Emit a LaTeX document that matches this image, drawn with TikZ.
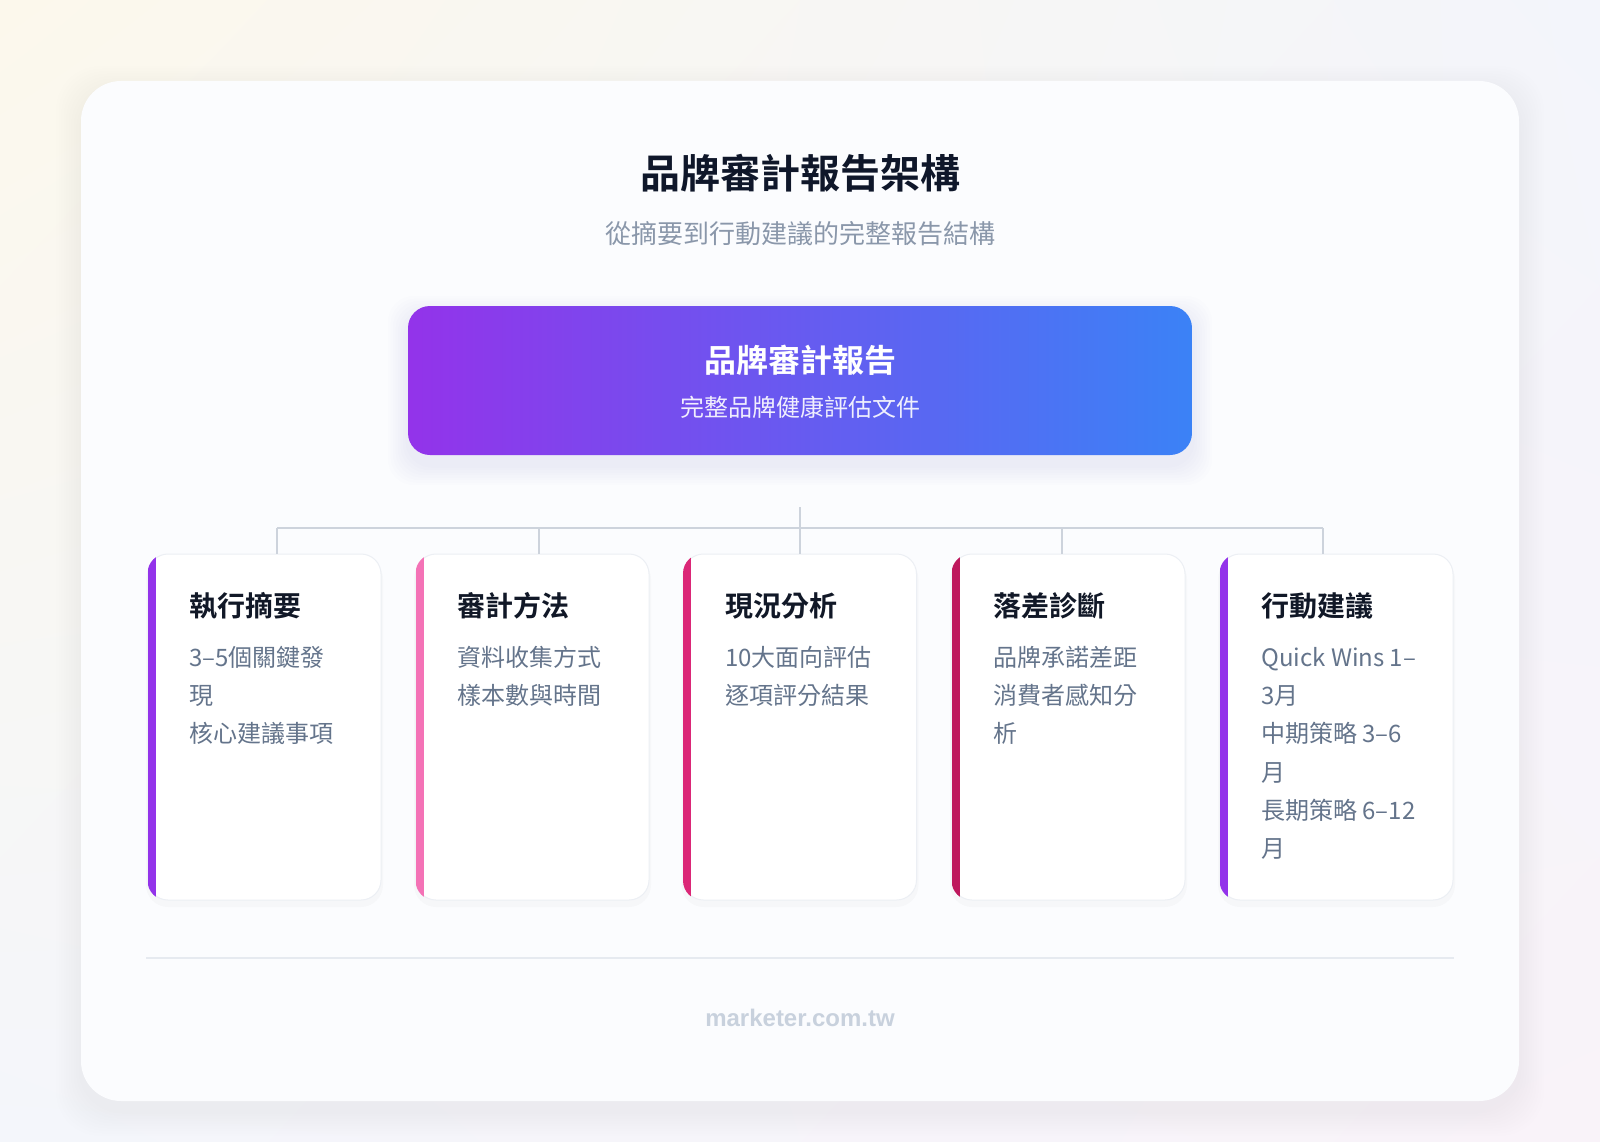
\documentclass[tikz,border=0pt]{standalone}
\usepackage{fontspec}
\usetikzlibrary{shadings}
\setmainfont{Noto Sans CJK TC}[BoldFont={Noto Sans CJK TC Bold}]
\newfontfamily\footfont{Liberation Sans}
\definecolor{bgA}{HTML}{FCF8EC}
\definecolor{bgB}{HTML}{F3F5FB}
\definecolor{bgC}{HTML}{F4F6FB}
\definecolor{bgD}{HTML}{F9F3F9}
\definecolor{panel}{HTML}{FBFCFE}
\definecolor{titlec}{HTML}{0F172A}
\definecolor{subc}{HTML}{8A97AA}
\definecolor{bodyc}{HTML}{64748B}
\definecolor{cardt}{HTML}{111827}
\definecolor{linec}{HTML}{CDD3DC}
\definecolor{footc}{HTML}{C8D1DD}
\definecolor{footl}{HTML}{E6EAF0}
\definecolor{cardb}{HTML}{ECEFF4}
\definecolor{gradL}{HTML}{9333EA}
\definecolor{gradR}{HTML}{3B82F6}
\definecolor{barA}{HTML}{9333EA}
\definecolor{barB}{HTML}{F472B6}
\definecolor{barC}{HTML}{DB2777}
\definecolor{barD}{HTML}{BE185D}
\definecolor{glow}{HTML}{6366F1}
\tikzset{
  cardbox/.style={draw=cardb, line width=1pt, fill=white, rounded corners=20pt,
    minimum width=233pt, minimum height=346pt, inner sep=0pt},
  cardtitle/.style={anchor=base west, inner sep=0pt, text=cardt,
    font=\fontsize{28}{28}\selectfont\bfseries},
  cardline/.style={anchor=base west, inner sep=0pt, text=bodyc,
    font=\fontsize{24}{24}\selectfont},
  conn/.style={draw=linec, line width=2pt},
}
\begin{document}
\begin{tikzpicture}[x=1pt,y=-1pt]
\useasboundingbox (0,0) rectangle (1600,1142);
% background
\shade[upper left=bgA, upper right=bgB, lower left=bgC, lower right=bgD] (0,0) rectangle (1600,1142);
% panel shadow
\foreach \i in {1,...,10} {
  \fill[black, opacity=0.0035, rounded corners=44pt] (81-\i*2.5,81-\i*2.5+10) rectangle (1519+\i*2.5,1101+\i*2.5+10);
}
\fill[panel, rounded corners=40pt] (81,81) rectangle (1519,1101);
% title
\node[anchor=base, inner sep=0pt, text=titlec, font=\fontsize{40}{40}\selectfont\bfseries] (title) at (800,188.7) {品牌審計報告架構};
\node[anchor=base, inner sep=0pt, text=subc, font=\fontsize{26}{26}\selectfont] (subtitle) at (800,243) {從摘要到行動建議的完整報告結構};
% top box shadow
\foreach \i in {1,...,8} {
  \fill[glow, opacity=0.012, rounded corners=26pt] (408-\i*2.5,306-\i*2.5+10) rectangle (1192+\i*2.5,455+\i*2.5+10);
}
\node[rounded corners=22pt, left color=gradL, right color=gradR, minimum width=784pt, minimum height=149pt, inner sep=0pt] (top) at (800,380.5) {};
\node[anchor=base, inner sep=0pt, text=white, font=\fontsize{32}{32}\selectfont\bfseries] (toptitle) at (800,372) {品牌審計報告};
\node[anchor=base, inner sep=0pt, text=white, text opacity=0.9, font=\fontsize{24}{24}\selectfont] (topsub) at (800,416) {完整品牌健康評估文件};
% cards
\foreach \n/\cx/\bc in {c1/264.5/barA, c2/532.5/barB, c3/800/barC, c4/1068.5/barD, c5/1336.5/barA} {
  \fill[black, opacity=0.02, rounded corners=22pt] (\cx-118.5,554-1+4) rectangle (\cx+118.5,900+3+4);
  \node[cardbox] (\n) at (\cx,727) {};
  \begin{scope}
    \clip[rounded corners=20pt] (\n.south west) rectangle (\n.north east);
    \fill[\bc] (\n.south west) rectangle ([xshift=8pt]\n.north west);
  \end{scope}
}
% connectors
\coordinate (hub) at (800,507);
\coordinate (j1) at (277,528);
\coordinate (j2) at (538.5,528);
\coordinate (j3) at (800,528);
\coordinate (j4) at (1061.5,528);
\coordinate (j5) at (1323,528);
\draw[conn] (hub) -- (j3);
\draw[conn] (j1) -- (j5);
\foreach \j/\c in {j1/c1, j2/c2, j3/c3, j4/c4, j5/c5} {
  \draw[conn] (\j) -- (\j |- \c.north);
}
% card texts
\node[cardtitle] (t1) at (189,616.6) {執行摘要};
\node[cardline] (l11) at (189,666) {3–5個關鍵發};
\node[cardline] (l12) at (189,704.3) {現};
\node[cardline] (l13) at (189,742.6) {核心建議事項};
\node[cardtitle] (t2) at (457,616.6) {審計方法};
\node[cardline] (l21) at (457,666) {資料收集方式};
\node[cardline] (l22) at (457,704.3) {樣本數與時間};
\node[cardtitle] (t3) at (725,616.6) {現況分析};
\node[cardline] (l31) at (725,666) {10大面向評估};
\node[cardline] (l32) at (725,704.3) {逐項評分結果};
\node[cardtitle] (t4) at (993,616.6) {落差診斷};
\node[cardline] (l41) at (993,666) {品牌承諾差距};
\node[cardline] (l42) at (993,704.3) {消費者感知分};
\node[cardline] (l43) at (993,742.6) {析};
\node[cardtitle] (t5) at (1261,616.6) {行動建議};
\node[cardline] (l51) at (1261,666) {Quick Wins 1–};
\node[cardline] (l52) at (1261,704.3) {3月};
\node[cardline] (l53) at (1261,742.6) {中期策略 3–6};
\node[cardline] (l54) at (1261,781) {月};
\node[cardline] (l55) at (1261,819.3) {長期策略 6–12};
\node[cardline] (l56) at (1261,857.6) {月};
% footer
\coordinate (fl) at (146,958);
\coordinate (fr) at (1454,958);
\draw[footl, line width=1.5pt] (fl) -- (fr);
\node[anchor=base, inner sep=0pt, text=footc, font=\footfont\fontsize{24}{24}\selectfont\bfseries] (footer) at (800,1026) {marketer.com.tw};
\end{tikzpicture}
\end{document}
